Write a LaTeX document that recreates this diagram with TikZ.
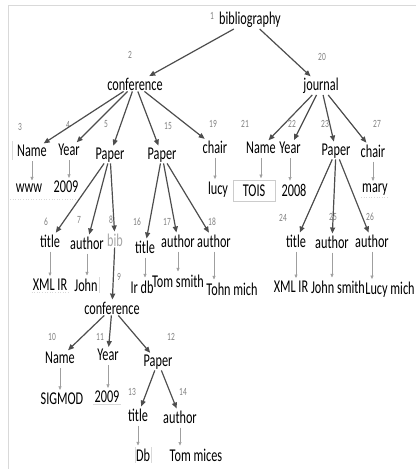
\documentclass[tikz,border=0pt]{standalone}
\usepackage{fontspec}
\setmainfont{Carlito}[FakeStretch=0.68]
\usetikzlibrary{arrows.meta}
\definecolor{arrgray}{HTML}{4D4D4D}

\begin{document}
\begin{tikzpicture}[x=1pt,y=-1pt,
tag/.style={inner sep=1pt,font=\fontsize{18}{20}\selectfont},
num/.style={inner sep=0pt,font=\fontsize{11}{12}\selectfont,text=gray},
arr/.style={-{Triangle[length=6pt,width=5pt]},draw=arrgray,line width=1.2pt,shorten >=1pt},
varr/.style={-{Triangle[length=3.5pt,width=3pt]},draw=gray!75,line width=0.5pt,shorten <=3pt,shorten >=2pt},
faint/.style={draw=gray!30,line width=0.6pt}]
\useasboundingbox (0,0) rectangle (416,469);
\draw[faint] (416,5) -- (8,5) -- (8,469);
% root and first level
\node[tag] (bibl) at (250,20) {bibliography};
\node[num] (l1) at (212,16) {1};
\node[tag] (conf) at (135,84) {conference};
\node[num] (l2) at (130,55) {2};
\node[tag] (jour) at (321,86) {journal};
\node[num] (l20) at (322,57) {20};
\draw[arr] (bibl) -- (conf);
\draw[arr] (bibl) -- (jour);
% children of conference
\node[tag] (cname) at (32,151) {Name};
\node[num] (l3) at (20,127) {3};
\node[tag] (cyear) at (69,150) {Year};
\node[num] (l4) at (68,125) {4};
\node[tag] (cpaper) at (110,155) {Paper};
\node[num] (l5) at (106,124) {5};
\node[tag] (cpaperb) at (162,155) {Paper};
\node[num] (l15) at (168,126) {15};
\node[tag] (cchair) at (215,147) {chair};
\node[num] (l19) at (213,124) {19};
\draw[arr] (conf) -- (cname);
\draw[arr] (conf) -- (cyear);
\draw[arr] (conf) -- (cpaper);
\draw[arr] (conf) -- (cpaperb);
\draw[arr] (conf) -- (cchair);
% children of journal
\node[tag] (jname) at (261,148) {Name};
\node[num] (l21) at (245,124) {21};
\node[tag] (jyear) at (290,148) {Year};
\node[num] (l22) at (292,124) {22};
\node[tag] (jpaper) at (336,151) {Paper};
\node[num] (l23) at (325,124) {23};
\node[tag] (jchair) at (373,151) {chair};
\node[num] (l27) at (377,124) {27};
\draw[arr] (jour) -- (jname);
\draw[arr] (jour) -- (jyear);
\draw[arr] (jour) -- (jpaper);
\draw[arr] (jour) -- (jchair);
% values
\node[tag] (vwww) at (29,188) {www};
\node[tag] (vyear) at (66,187) {2009};
\node[tag] (vlucy) at (218,190) {lucy};
\node[tag,draw=gray!40,line width=0.6pt,minimum width=42pt,minimum height=21pt] (vtois) at (254,191) {TOIS};
\node[tag] (vyearb) at (294,190) {2008};
\node[tag] (vmary) at (375,190) {mary};
\draw[varr] (cname.south) -- (cname.south |- vwww.north);
\draw[varr] (cyear.south) -- (cyear.south |- vyear.north);
\draw[varr] (cchair.south) -- (cchair.south |- vlucy.north);
\draw[varr] (jname.south) -- (jname.south |- vtois.north);
\draw[varr] (jyear.south) -- (jyear.south |- vyearb.north);
\draw[varr] (jchair.south) -- (jchair.south |- vmary.north);
\draw[faint] (12,141) -- (12,160);
\draw[faint,dotted] (10,199) -- (80,199);
\draw[faint,dotted] (vmary.south west) -- (vmary.south east);
% papers
\node[tag] (ctitle) at (50,241) {title};
\node[num] (l6) at (46,222) {6};
\node[tag] (cauthor) at (87,243) {author};
\node[num] (l7) at (79,220) {7};
\node[tag,text=gray!70] (cbib) at (115,240) {bib};
\node[num] (l8) at (111,220) {8};
\node[tag] (ctitleb) at (145,247) {title};
\node[num] (l16) at (137,222) {16};
\node[tag] (cauthb) at (178,241) {author};
\node[num] (l17) at (167,222) {17};
\node[tag] (cauthc) at (214,241) {author};
\node[num] (l18) at (212,222) {18};
\node[tag] (jtitle) at (296,241) {title};
\node[num] (l24) at (283,218) {24};
\node[tag] (jauth) at (332,242) {author};
\node[num] (l25) at (333,217) {25};
\node[tag] (jauthb) at (372,241) {author};
\node[num] (l26) at (370,217) {26};
\draw[arr] (cpaper) -- (ctitle);
\draw[arr] (cpaper) -- (cauthor);
\draw[arr] (cpaper) -- (cbib);
\draw[arr] (cpaperb) -- (ctitleb);
\draw[arr] (cpaperb) -- (cauthb);
\draw[arr] (cpaperb) -- (cauthc);
\draw[arr] (jpaper) -- (jtitle);
\draw[arr] (jpaper) -- (jauth);
\draw[arr] (jpaper) -- (jauthb);
% leaves
\node[tag] (xmlir) at (50,285) {XML IR};
\node[tag] (john) at (86,285) {John};
\node[tag] (irdb) at (142,287) {Ir db};
\node[tag] (tomsmith) at (178,281) {Tom smith};
\node[tag] (tohnmich) at (232,289) {Tohn mich};
\node[tag] (xmlirb) at (291,287) {XML IR};
\node[tag] (johnsmith) at (338,287) {John smith};
\node[tag] (lucymich) at (390,290) {Lucy mich};
\draw[varr] (ctitle.south) -- (ctitle.south |- xmlir.north);
\draw[varr] (cauthor.south) -- (cauthor.south |- john.north);
\draw[varr] (ctitleb.south) -- (ctitleb.south |- irdb.north);
\draw[varr] (cauthb.south) -- (cauthb.south |- tomsmith.north);
\draw[varr] (cauthc.south) -- (cauthc.south |- tohnmich.north);
\draw[varr] (jtitle.south) -- (jtitle.south |- xmlirb.north);
\draw[varr] (jauth.south) -- (jauth.south |- johnsmith.north);
\draw[varr] (jauthb.south) -- (jauthb.south |- lucymich.north);
\draw[faint,dotted] (xmlir.south west) -- (xmlir.south east);
\draw[faint] (john.north east) -- (john.south east);
% nested conference
\node[tag] (confb) at (112,308) {conference};
\node[num] (l9) at (119,277) {9};
\draw[arr] (cbib) -- (confb);
\node[tag] (bname) at (60,358) {Name};
\node[num] (l10) at (52,337) {10};
\node[tag] (byear) at (108,355) {Year};
\node[num] (l11) at (100,337) {11};
\node[tag] (bpaper) at (158,362) {Paper};
\node[num] (l12) at (171,337) {12};
\draw[arr] (confb) -- (bname);
\draw[arr] (confb) -- (byear);
\draw[arr] (confb) -- (bpaper);
\node[tag] (sigmod) at (62,399) {SIGMOD};
\node[tag] (byearv) at (107,397) {2009};
\draw[varr] (bname.south) -- (bname.south |- sigmod.north);
\draw[varr] (byear.south) -- (byear.south |- byearv.north);
\draw[faint] (byearv.south west) -- (byearv.south east);
\node[tag] (btitle) at (138,415) {title};
\node[num] (l13) at (132,392) {13};
\node[tag] (bauthor) at (180,417) {author};
\node[num] (l14) at (183,392) {14};
\draw[arr] (bpaper) -- (btitle);
\draw[arr] (bpaper) -- (bauthor);
\node[tag] (db) at (143,455) {Db};
\node[tag] (tommices) at (196,455) {Tom mices};
\draw[varr] (btitle.south) -- (btitle.south |- db.north);
\draw[varr] (bauthor.south) -- (bauthor.south |- tommices.north);
\draw[faint] (db.north west) -- (db.south west);
\draw[faint] (db.north east) -- (db.south east);
\end{tikzpicture}
\end{document}
